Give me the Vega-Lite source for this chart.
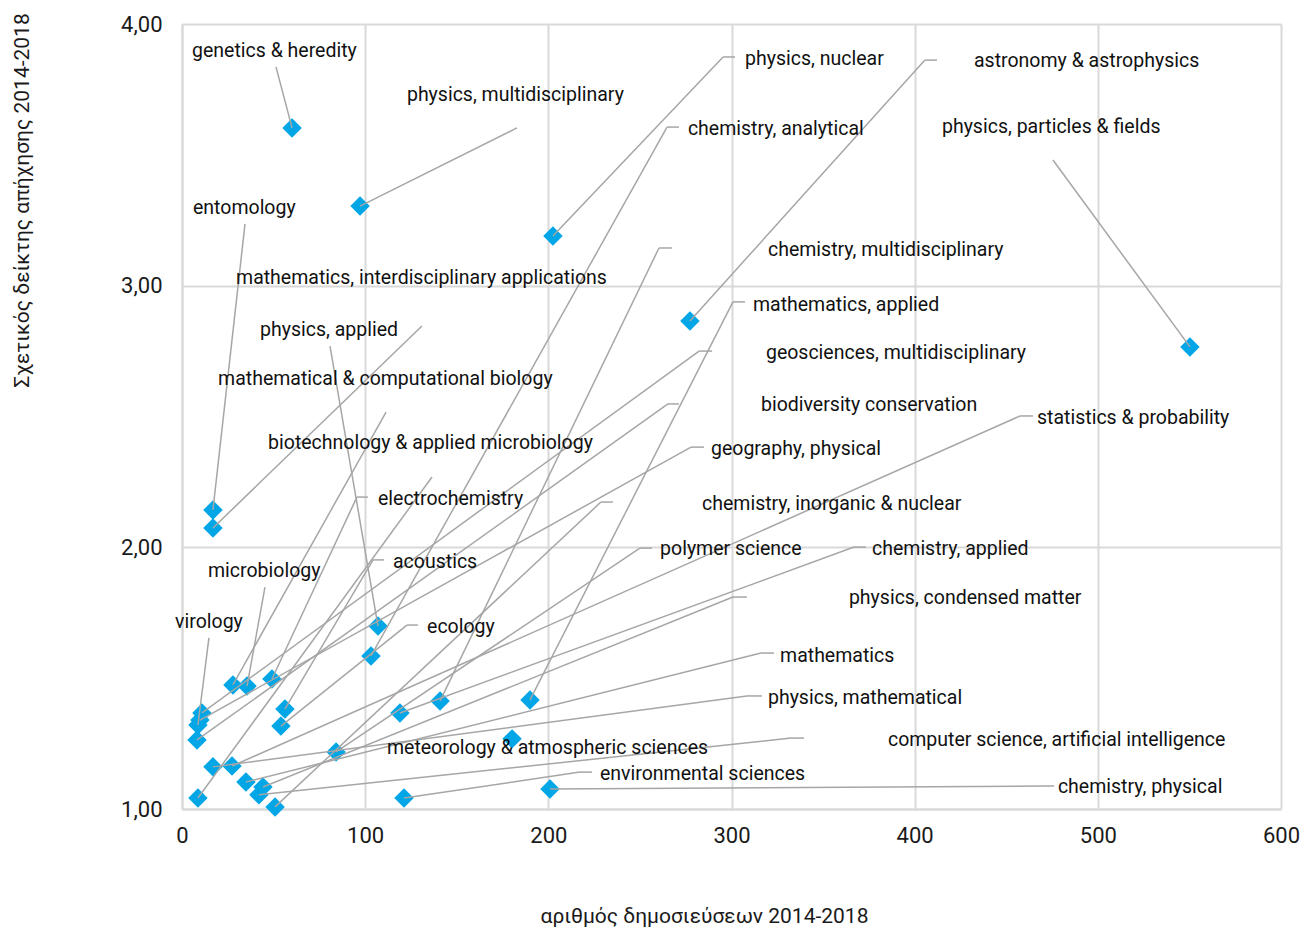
{
  "$schema": "https://vega.github.io/schema/vega-lite/v6.json",
  "width": 1099,
  "height": 785,
  "autosize": {"type": "none"},
  "padding": {"left": 182, "top": 24, "right": 20, "bottom": 120},
  "background": "white",
  "config": {
    "view": {"stroke": null},
    "font": "Roboto",
    "axis": {
      "grid": true, "gridColor": "#d9d9d9", "gridWidth": 2,
      "domainColor": "#d9d9d9", "domainWidth": 2, "ticks": false, "labelFlush": false,
      "labelFont": "Roboto", "labelFontSize": 22, "labelColor": "#1a1a1a",
      "titleFont": "Roboto", "titleFontSize": 21, "titleFontWeight": "normal", "titleColor": "#1a1a1a"
    },
    "axisX": {"labelPadding": 16, "titleX": 522, "titleY": 107, "titleAlign": "center", "titleBaseline": "middle"},
    "axisY": {"labelPadding": 20, "titleX": -160, "titleY": 176, "titleAngle": -90, "titleAlign": "center", "titleBaseline": "middle"}
  },
  "data": {"values": [
    {"name": "genetics & heredity", "n": 60.1, "cite": 3.603, "lx": 5.46, "ly": 3.897, "ax": 51.3, "ay": 3.836},
    {"name": "physics, multidisciplinary", "n": 97.2, "cite": 3.304, "lx": 122.8, "ly": 3.729, "ax": 182.9, "ay": 3.603},
    {"name": "physics, nuclear", "n": 202.5, "cite": 3.19, "lx": 307.4, "ly": 3.866, "ax": 295.4, "ay": 3.874, "sx": 301.9},
    {"name": "astronomy & astrophysics", "n": 277.3, "cite": 2.865, "lx": 432.4, "ly": 3.859, "ax": 405.6, "ay": 3.862, "sx": 412.2},
    {"name": "physics, particles & fields", "n": 550.3, "cite": 2.766, "lx": 414.9, "ly": 3.606, "ax": 475.5, "ay": 3.48},
    {"name": "chemistry, analytical", "n": 103.2, "cite": 1.585, "lx": 276.2, "ly": 3.599, "ax": 264.8, "ay": 3.606, "sx": 271.3},
    {"name": "entomology", "n": 16.9, "cite": 2.143, "lx": 6.0, "ly": 3.297, "ax": 34.4, "ay": 3.236},
    {"name": "chemistry, multidisciplinary", "n": 140.9, "cite": 1.413, "lx": 319.9, "ly": 3.136, "ax": 260.4, "ay": 3.144, "sx": 267.5},
    {"name": "mathematics, interdisciplinary applications", "n": 16.9, "cite": 2.074, "lx": 29.5, "ly": 3.029, "ax": 131.0, "ay": 2.846},
    {"name": "physics, applied", "n": 107.0, "cite": 1.699, "lx": 42.6, "ly": 2.831, "ax": 80.8, "ay": 2.769},
    {"name": "mathematics, applied", "n": 190.0, "cite": 1.417, "lx": 311.7, "ly": 2.926, "ax": 300.8, "ay": 2.938, "sx": 307.4},
    {"name": "geosciences, multidisciplinary", "n": 10.9, "cite": 1.367, "lx": 318.8, "ly": 2.743, "ax": 282.3, "ay": 2.75, "sx": 289.4},
    {"name": "mathematical & computational biology", "n": 27.8, "cite": 1.474, "lx": 19.7, "ly": 2.643, "ax": 111.4, "ay": 2.517},
    {"name": "biodiversity conservation", "n": 8.2, "cite": 1.264, "lx": 316.1, "ly": 2.544, "ax": 265.3, "ay": 2.548, "sx": 271.3},
    {"name": "statistics & probability", "n": 27.3, "cite": 1.164, "lx": 466.8, "ly": 2.494, "ax": 457.5, "ay": 2.502, "sx": 464.6},
    {"name": "biotechnology & applied microbiology", "n": 8.7, "cite": 1.042, "lx": 47.0, "ly": 2.399, "ax": 136.5, "ay": 2.269},
    {"name": "geography, physical", "n": 9.8, "cite": 1.34, "lx": 288.8, "ly": 2.376, "ax": 277.9, "ay": 2.383, "sx": 285.0},
    {"name": "electrochemistry", "n": 49.1, "cite": 1.497, "lx": 107.0, "ly": 2.185, "ax": 95.5, "ay": 2.192, "sx": 101.5},
    {"name": "chemistry, inorganic & nuclear", "n": 50.8, "cite": 1.008, "lx": 283.9, "ly": 2.166, "ax": 228.7, "ay": 2.173, "sx": 235.3},
    {"name": "polymer science", "n": 84.1, "cite": 1.218, "lx": 261.0, "ly": 1.994, "ax": 250.0, "ay": 1.997, "sx": 256.6},
    {"name": "chemistry, applied", "n": 119.0, "cite": 1.367, "lx": 376.7, "ly": 1.994, "ax": 366.9, "ay": 2.001, "sx": 373.4},
    {"name": "microbiology", "n": 35.5, "cite": 1.47, "lx": 14.2, "ly": 1.91, "ax": 45.3, "ay": 1.848},
    {"name": "acoustics", "n": 56.2, "cite": 1.382, "lx": 115.2, "ly": 1.944, "ax": 104.3, "ay": 1.952, "sx": 110.3},
    {"name": "physics, condensed matter", "n": 44.2, "cite": 1.084, "lx": 364.1, "ly": 1.806, "ax": 300.8, "ay": 1.81, "sx": 308.4},
    {"name": "virology", "n": 8.7, "cite": 1.321, "lx": -3.8, "ly": 1.715, "ax": 14.7, "ay": 1.654},
    {"name": "ecology", "n": 54.0, "cite": 1.317, "lx": 133.8, "ly": 1.696, "ax": 122.8, "ay": 1.703, "sx": 128.8},
    {"name": "mathematics", "n": 34.9, "cite": 1.103, "lx": 326.5, "ly": 1.585, "ax": 316.1, "ay": 1.596, "sx": 323.2},
    {"name": "physics, mathematical", "n": 16.9, "cite": 1.161, "lx": 319.9, "ly": 1.424, "ax": 308.4, "ay": 1.432, "sx": 316.6},
    {"name": "meteorology & atmospheric sciences", "n": 180.2, "cite": 1.268, "lx": 111.9, "ly": 1.233},
    {"name": "computer science, artificial intelligence", "n": 42.0, "cite": 1.054, "lx": 385.4, "ly": 1.264, "ax": 332.5, "ay": 1.271, "sx": 339.6},
    {"name": "environmental sciences", "n": 121.2, "cite": 1.042, "lx": 228.2, "ly": 1.134, "ax": 217.3, "ay": 1.141, "sx": 223.8},
    {"name": "chemistry, physical", "n": 200.9, "cite": 1.076, "lx": 478.2, "ly": 1.084, "ax": 470.6, "ay": 1.088, "sx": 476.1}
  ]},
  "layer": [
    {
      "mark": {"type": "point", "shape": "diamond", "filled": true, "size": 380, "color": "#00a6e6", "opacity": 1},
      "encoding": {
        "x": {"field": "n", "type": "quantitative", "title": "αριθμός δημοσιεύσεων 2014-2018",
              "scale": {"domain": [0, 600], "nice": false, "zero": true},
              "axis": {"values": [0, 100, 200, 300, 400, 500, 600]}},
        "y": {"field": "cite", "type": "quantitative", "title": "Σχετικός δείκτης απήχησης 2014-2018",
              "scale": {"domain": [1, 4], "nice": false, "zero": false},
              "axis": {"values": [1, 2, 3, 4], "labelExpr": "replace(format(datum.value, '.2f'), '.', ',')"}}
      }
    },
    {
      "transform": [{"filter": "isValid(datum.ax)"}],
      "mark": {"type": "rule", "color": "#a6a6a6", "strokeWidth": 1.5},
      "encoding": {
        "x": {"field": "n", "type": "quantitative", "title": "αριθμός δημοσιεύσεων 2014-2018"},
        "y": {"field": "cite", "type": "quantitative", "title": "Σχετικός δείκτης απήχησης 2014-2018"},
        "x2": {"field": "ax"},
        "y2": {"field": "ay"}
      }
    },
    {
      "transform": [{"filter": "isValid(datum.sx)"}],
      "mark": {"type": "rule", "color": "#a6a6a6", "strokeWidth": 1.5},
      "encoding": {
        "x": {"field": "ax", "type": "quantitative", "title": "αριθμός δημοσιεύσεων 2014-2018"},
        "y": {"field": "ay", "type": "quantitative", "title": "Σχετικός δείκτης απήχησης 2014-2018"},
        "x2": {"field": "sx"},
        "y2": {"field": "ay"}
      }
    },
    {
      "mark": {"type": "text", "align": "left", "baseline": "middle", "font": "Roboto", "fontSize": 19.5, "color": "#111111"},
      "encoding": {
        "x": {"field": "lx", "type": "quantitative", "title": "αριθμός δημοσιεύσεων 2014-2018"},
        "y": {"field": "ly", "type": "quantitative", "title": "Σχετικός δείκτης απήχησης 2014-2018"},
        "text": {"field": "name"}
      }
    }
  ]
}
